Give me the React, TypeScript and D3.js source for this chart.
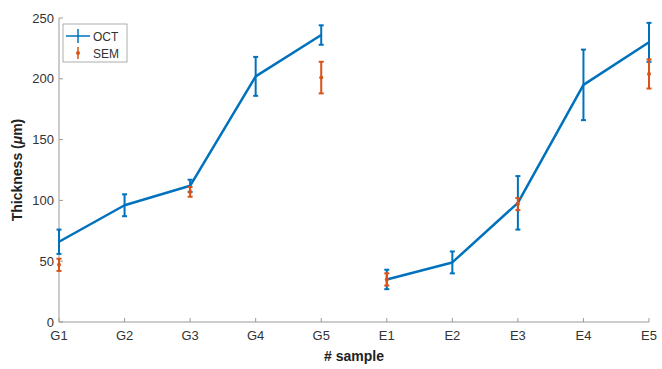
import React from "react";
import * as d3 from "d3";

const categories = ["G1", "G2", "G3", "G4", "G5", "E1", "E2", "E3", "E4", "E5"];
// OCT thickness mean and error (µm); a gap separates the G and E groups
const octMean = [66, 96, 112, 202, 236, 35, 49, 98, 195, 230];
const octErr = [10, 9, 5, 16, 8, 8, 9, 22, 29, 16];
// SEM thickness mean and error (µm); null where no SEM measurement exists
const semMean: (number | null)[] = [47, 0, 107, 0, 201, 35, 0, 97, 0, 204].map((v, i) =>
  [1, 3, 6, 8].includes(i) ? null : v
);
const semErr = [5, 0, 4, 0, 13, 5, 0, 5, 0, 12];
const yTicks = [0, 50, 100, 150, 200, 250];

const W = 662;
const H = 369;
const m = { left: 59, right: 13, top: 18, bottom: 47 };
const BLUE = "#0072BD";
const ORANGE = "#D95319";
const AXIS = "#9a9a9a";
const TEXT = "#333333";
const FONT = "'Liberation Sans', Arial, Helvetica, sans-serif";

export default function App() {
  const x = d3
    .scalePoint<string>()
    .domain(categories)
    .range([m.left, W - m.right]);
  const y = d3
    .scaleLinear()
    .domain([0, 250])
    .range([H - m.bottom, m.top]);

  const idx = categories.map((_, i) => i);
  const line = d3
    .line<number>()
    .defined((i) => !(i === 5))
    .x((i) => x(categories[i])!)
    .y((i) => y(octMean[i]));
  const gSeg = line(idx.slice(0, 5))!;
  const eSeg = line.defined(() => true)(idx.slice(5))!;

  const cap = 2.5;
  const y0 = y(0);

  return (
    <svg width={W} height={H} style={{ position: "absolute", left: 0, top: 0, background: "#fff" }}>
      {/* axes */}
      <line x1={m.left} x2={m.left} y1={y(250)} y2={y0} stroke={AXIS} strokeWidth={1} />
      <line x1={m.left} x2={W - m.right} y1={y0} y2={y0} stroke={AXIS} strokeWidth={1} />
      {yTicks.map((t) => (
        <g key={t}>
          <line x1={m.left} x2={m.left + 4} y1={y(t)} y2={y(t)} stroke={AXIS} />
          <text
            x={m.left - 5}
            y={y(t)}
            dy="0.35em"
            textAnchor="end"
            fontFamily={FONT}
            fontSize={13}
            fill={TEXT}
          >
            {t}
          </text>
        </g>
      ))}
      {categories.map((c) => (
        <g key={c}>
          <line x1={x(c)} x2={x(c)} y1={y0} y2={y0 - 4} stroke={AXIS} />
          <text
            x={x(c)}
            y={y0 + 18}
            textAnchor="middle"
            fontFamily={FONT}
            fontSize={13}
            fill={TEXT}
          >
            {c}
          </text>
        </g>
      ))}
      <text
        x={354}
        y={361}
        textAnchor="middle"
        fontFamily={FONT}
        fontSize={14}
        fontWeight="bold"
        fill="#222"
      >
        # sample
      </text>
      <text
        transform={`translate(22,${(m.top + y0) / 2}) rotate(-90)`}
        textAnchor="middle"
        fontFamily={FONT}
        fontSize={14}
        fontWeight="bold"
        fill="#222"
      >
        Thickness (<tspan fontStyle="italic">μ</tspan>m)
      </text>

      {/* OCT line and error bars */}
      <path d={gSeg} fill="none" stroke={BLUE} strokeWidth={2.5} strokeLinejoin="round" />
      <path d={eSeg} fill="none" stroke={BLUE} strokeWidth={2.5} strokeLinejoin="round" />
      {categories.map((c, i) => {
        const cx = x(c)!;
        const top = y(octMean[i] + octErr[i]);
        const bot = y(octMean[i] - octErr[i]);
        return (
          <g key={c} stroke={BLUE} strokeWidth={2}>
            <line x1={cx} x2={cx} y1={top} y2={bot} />
            <line x1={cx - cap} x2={cx + cap} y1={top} y2={top} />
            <line x1={cx - cap} x2={cx + cap} y1={bot} y2={bot} />
          </g>
        );
      })}

      {/* SEM error bars */}
      {categories.map((c, i) => {
        const v = semMean[i];
        if (v == null) return null;
        const cx = x(c)!;
        const top = y(v + semErr[i]);
        const bot = y(v - semErr[i]);
        return (
          <g key={c} stroke={ORANGE} strokeWidth={2}>
            <line x1={cx} x2={cx} y1={top} y2={bot} />
            <line x1={cx - cap} x2={cx + cap} y1={top} y2={top} />
            <line x1={cx - cap} x2={cx + cap} y1={bot} y2={bot} />
            <circle cx={cx} cy={y(v)} r={2} fill={ORANGE} stroke="none" />
          </g>
        );
      })}

      {/* legend */}
      <g>
        <rect x={63} y={24} width={64} height={38} fill="#fff" stroke={AXIS} strokeWidth={0.8} />
        <g stroke={BLUE}>
          <line x1={66} x2={90} y1={36} y2={36} strokeWidth={1.5} />
          <line x1={78} x2={78} y1={29} y2={43} strokeWidth={1.5} />
        </g>
        <g stroke={ORANGE} strokeWidth={1.5}>
          <line x1={78} x2={78} y1={47} y2={59} />
          <circle cx={78} cy={53} r={2} fill={ORANGE} stroke="none" />
        </g>
        <text x={93} y={41} fontFamily={FONT} fontSize={12} fill={TEXT}>
          OCT
        </text>
        <text x={93} y={58} fontFamily={FONT} fontSize={12} fill={TEXT}>
          SEM
        </text>
      </g>
    </svg>
  );
}
